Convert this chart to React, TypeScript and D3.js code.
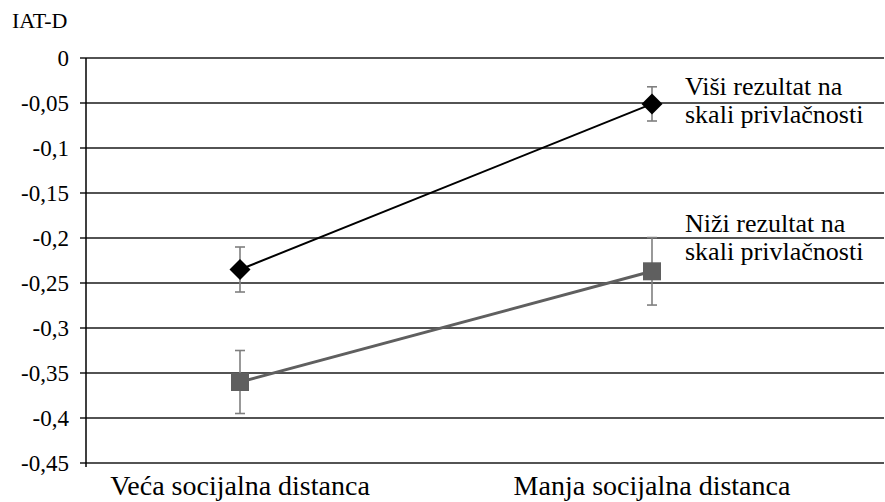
import React from "react";
import * as d3 from "d3";

const categories = ["Veća socijalna distanca", "Manja socijalna distanca"];
const highValues = [-0.235, -0.051];
const highErrors = [0.025, 0.019];
const lowValues = [-0.36, -0.237];
const lowErrors = [0.035, 0.0375];
const yTicks = [0, -0.05, -0.1, -0.15, -0.2, -0.25, -0.3, -0.35, -0.4, -0.45];
const highLabel = ["Viši rezultat na", "skali privlačnosti"];
const lowLabel = ["Niži rezultat na", "skali privlačnosti"];
const yTitle = "IAT-D";

const W = 885;
const H = 502;
const FONT = "Liberation Serif, Tinos, DejaVu Serif, serif";

const fmt = (v: number) => (v === 0 ? "0" : String(v).replace(".", ","));

export default function App() {
  const y = d3.scaleLinear().domain([-0.45, 0]).range([463, 58]);
  const x = d3.scalePoint<string>().domain(categories).range([240, 652]);
  const axisX = 86;
  const gridRight = 884;
  const line = d3
    .line<number>()
    .x((_, i) => x(categories[i]) as number)
    .y((v) => y(v));

  const errBars = (vals: number[], errs: number[], key: string) =>
    vals.map((v, i) => {
      const cx = x(categories[i]) as number;
      return (
        <g key={key + i} stroke="#7f7f7f" strokeWidth={1.6}>
          <line x1={cx} x2={cx} y1={y(v + errs[i])} y2={y(v - errs[i])} />
          <line x1={cx - 5} x2={cx + 5} y1={y(v + errs[i])} y2={y(v + errs[i])} />
          <line x1={cx - 5} x2={cx + 5} y1={y(v - errs[i])} y2={y(v - errs[i])} />
        </g>
      );
    });

  return (
    <svg
      width={W}
      height={H}
      style={{ position: "absolute", left: 0, top: 0, background: "#fff", fontFamily: FONT }}
    >
      <rect width={W} height={H} fill="#fff" />
      <text x={12} y={28} fontSize={22} fill="#000">
        {yTitle}
      </text>
      {yTicks.map((t) => (
        <g key={t}>
          <line
            x1={axisX - 6}
            x2={gridRight}
            y1={y(t)}
            y2={y(t)}
            stroke="#1a1a1a"
            strokeWidth={1.5}
          />
          <text
            x={69}
            y={y(t)}
            dy="0.35em"
            textAnchor="end"
            fontSize={23}
            fill="#000"
          >
            {fmt(t)}
          </text>
        </g>
      ))}
      <line x1={axisX} x2={axisX} y1={y(0)} y2={y(-0.45) + 4} stroke="#000" strokeWidth={1.5} />
      {categories.map((c) => (
        <text key={c} x={x(c) as number} y={495} textAnchor="middle" fontSize={28} fill="#000">
          {c}
        </text>
      ))}
      <path d={line(lowValues) || ""} fill="none" stroke="#5f5f5f" strokeWidth={3} />
      <path d={line(highValues) || ""} fill="none" stroke="#000" strokeWidth={2} />
      {errBars(highValues, highErrors, "h")}
      {errBars(lowValues, lowErrors, "l")}
      {highValues.map((v, i) => {
        const cx = x(categories[i]) as number;
        const cy = y(v);
        const r = 10.5;
        return (
          <path
            key={"d" + i}
            d={`M${cx},${cy - r}L${cx + r},${cy}L${cx},${cy + r}L${cx - r},${cy}Z`}
            fill="#000"
          />
        );
      })}
      {lowValues.map((v, i) => {
        const cx = x(categories[i]) as number;
        const cy = y(v);
        return <rect key={"s" + i} x={cx - 9} y={cy - 9} width={18} height={18} fill="#5f5f5f" />;
      })}
      {highLabel.map((s, i) => (
        <text key={"hl" + i} x={685} y={95 + i * 28} fontSize={26} fill="#000">
          {s}
        </text>
      ))}
      {lowLabel.map((s, i) => (
        <text key={"ll" + i} x={685} y={232 + i * 28} fontSize={26} fill="#000">
          {s}
        </text>
      ))}
    </svg>
  );
}
